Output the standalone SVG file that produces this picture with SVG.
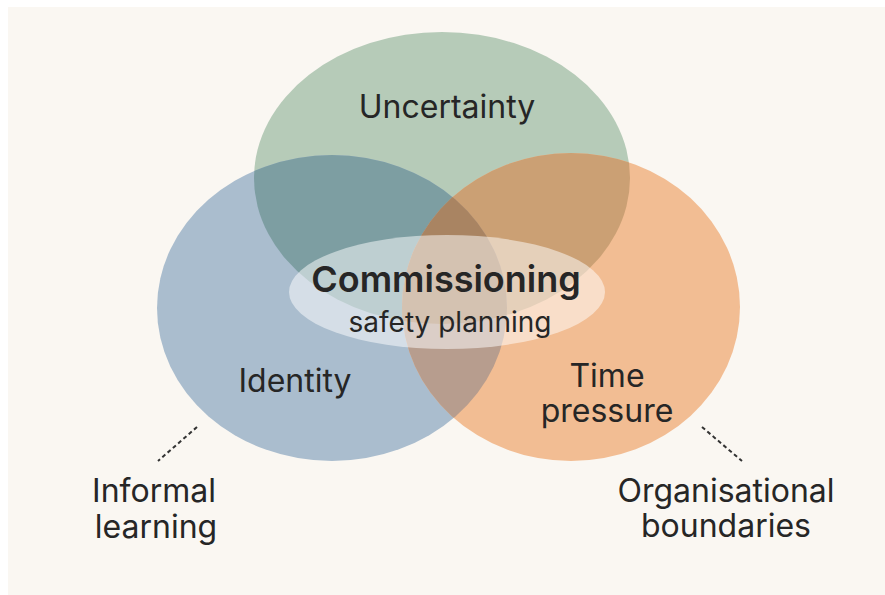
<svg xmlns="http://www.w3.org/2000/svg" xmlns:xlink="http://www.w3.org/1999/xlink" width="885" height="595" viewBox="0 0 885 595">
  <style>
    text { font-family: "Inter", "Liberation Sans", sans-serif; fill: #262626; text-anchor: middle; }
    .lbl { font-size: 32px; font-weight: 400; }
    .core { font-size: 36px; font-weight: 600; }
    .sub { font-size: 28px; font-weight: 400; }
    .lead { fill: none; stroke: #333333; stroke-width: 2; stroke-dasharray: 4 3; }
  </style>
  <defs>
    <!-- the three circles of the Venn diagram -->
    <ellipse id="shapeU" cx="442" cy="178" rx="188" ry="146"/>
    <ellipse id="shapeI" cx="332" cy="308" rx="175" ry="153"/>
    <ellipse id="shapeT" cx="571" cy="307" rx="169" ry="154"/>
    <clipPath id="clipU"><use xlink:href="#shapeU"/></clipPath>
    <clipPath id="clipI"><use xlink:href="#shapeI"/></clipPath>
  </defs>

  <!-- background -->
  <rect x="0" y="0" width="885" height="595" fill="#ffffff"/>
  <rect x="8" y="7" width="877" height="588" fill="#faf7f2"/>

  <g id="uncertainty">
    <use xlink:href="#shapeU" fill="#b6cbb8"/>
  </g>
  <g id="identity">
    <use xlink:href="#shapeI" fill="#aabdce"/>
  </g>
  <g id="time-pressure">
    <use xlink:href="#shapeT" fill="#f2bd93"/>
  </g>

  <!-- overlap regions -->
  <g id="overlaps">
    <use xlink:href="#shapeI" fill="#7d9ea2" clip-path="url(#clipU)"/>
    <use xlink:href="#shapeT" fill="#cba074" clip-path="url(#clipU)"/>
    <use xlink:href="#shapeT" fill="#b79d8e" clip-path="url(#clipI)"/>
    <g clip-path="url(#clipI)">
      <use xlink:href="#shapeT" fill="#a98462" clip-path="url(#clipU)"/>
    </g>
  </g>

  <g id="commissioning">
    <ellipse cx="447" cy="292" rx="158" ry="57" fill="#ffffff" fill-opacity="0.5"/>
    <text class="core" x="446" y="292">Commissioning</text>
    <text class="sub" x="450" y="332">safety planning</text>
  </g>

  <!-- circle labels -->
  <text class="lbl" x="447" y="118">Uncertainty</text>
  <text class="lbl" x="295" y="392">Identity</text>
  <text class="lbl" x="607" y="387">Time</text>
  <text class="lbl" x="607" y="422">pressure</text>

  <!-- dashed leaders to the outer context labels -->
  <g id="connectors">
    <line class="lead" x1="197" y1="427" x2="158" y2="461"/>
    <line class="lead" x1="702" y1="427" x2="742" y2="461"/>
  </g>

  <g id="informal-learning">
    <text class="lbl" x="154" y="502">Informal</text>
    <text class="lbl" x="156" y="538">learning</text>
  </g>
  <g id="organisational-boundaries">
    <text class="lbl" x="726" y="502">Organisational</text>
    <text class="lbl" x="726" y="537">boundaries</text>
  </g>
</svg>
